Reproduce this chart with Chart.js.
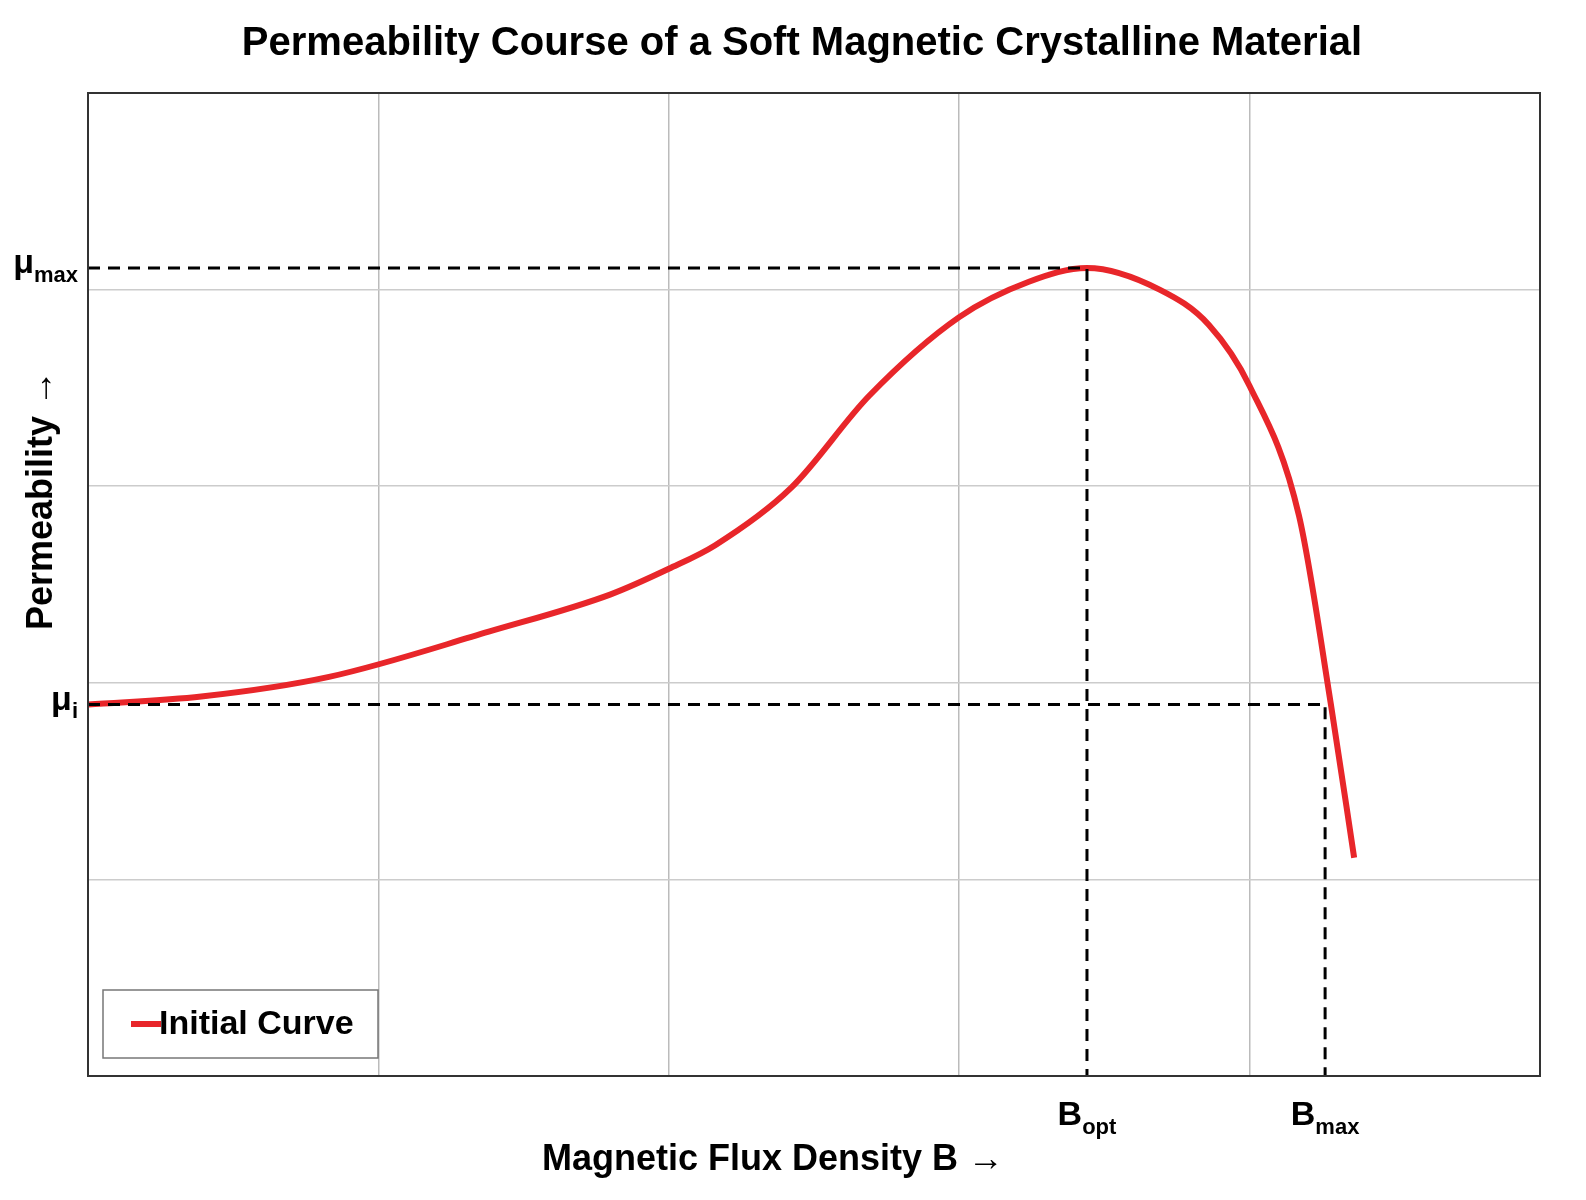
<!DOCTYPE html>
<html>
<head>
<meta charset="utf-8">
<script src="https://cdn.jsdelivr.net/npm/chart.js@4"></script>
<style>
  html, body { margin: 0; background: #fff; }
  canvas { display: block; }
</style>
</head>
<body>
<canvas id="chart" width="1586" height="1200"></canvas>
<script>
const FONT = "'Liberation Sans Narrow', 'Liberation Sans', Arial, sans-serif";

// initial curve (x and y in grid units 0..5)
const curveX = [0, 0.39, 0.83, 1.38, 1.80, 2.00, 2.16, 2.42, 2.69, 3.00, 3.24, 3.44, 3.69, 3.86, 4.00, 4.17, 4.28, 4.36];
const curveY = [1.89, 1.93, 2.03, 2.26, 2.45, 2.58, 2.70, 2.99, 3.46, 3.86, 4.04, 4.11, 4.00, 3.82, 3.51, 2.85, 1.89, 1.11];

// marked points
const muMax = 4.11;
const muI = 1.89;
const bOpt = 3.44;
const bMax = 4.26;

const xTicks = [{ v: bOpt, main: "B", sub: "opt" }, { v: bMax, main: "B", sub: "max" }];
const yTicks = [{ v: muMax, main: "μ", sub: "max" }, { v: muI, main: "μ", sub: "i" }];

const toPts = (xs, ys) => xs.map((x, i) => ({ x, y: ys[i] }));
const dashed = (pts) => ({
  data: pts, borderColor: "#000", borderWidth: 3, borderDash: [12, 8],
  pointRadius: 0, fill: false, tension: 0
});

const drawSub = (ctx, x, y, main, sub, align) => {
  ctx.font = `bold 34px ${FONT}`;
  const w1 = ctx.measureText(main).width;
  ctx.font = `bold 22px ${FONT}`;
  const w2 = ctx.measureText(sub).width;
  let sx = align === "right" ? x - w1 - w2 : x - (w1 + w2) / 2;
  ctx.textAlign = "left";
  ctx.textBaseline = "middle";
  ctx.font = `bold 34px ${FONT}`;
  ctx.fillText(main, sx, y);
  ctx.font = `bold 22px ${FONT}`;
  ctx.fillText(sub, sx + w1, y + 12);
};

const decor = {
  id: "decor",
  afterDraw(chart) {
    const { ctx, chartArea: a, scales: { x, y } } = chart;
    ctx.save();
    ctx.fillStyle = "#000";
    ctx.strokeStyle = "#333";
    ctx.lineWidth = 2;
    ctx.strokeRect(a.left, a.top, a.right - a.left, a.bottom - a.top);

    ctx.textAlign = "center";
    ctx.textBaseline = "middle";
    ctx.font = `bold 40px ${FONT}`;
    ctx.fillText("Permeability Course of a Soft Magnetic Crystalline Material", 802, 44);
    ctx.font = `bold 36px ${FONT}`;
    ctx.fillText("Magnetic Flux Density B →", 773, 1160);
    ctx.save();
    ctx.translate(42, 500);
    ctx.rotate(-Math.PI / 2);
    ctx.fillText("Permeability →", 0, 0);
    ctx.restore();

    xTicks.forEach((t) => drawSub(ctx, x.getPixelForValue(t.v), 1116, t.main, t.sub, "center"));
    yTicks.forEach((t) => drawSub(ctx, 78, y.getPixelForValue(t.v) - 4, t.main, t.sub, "right"));

    // legend box
    const lx = a.left + 15, ly = a.bottom - 86;
    ctx.fillStyle = "#fff";
    ctx.fillRect(lx, ly, 275, 68);
    ctx.strokeStyle = "#777";
    ctx.lineWidth = 1.5;
    ctx.strokeRect(lx, ly, 275, 68);
    ctx.strokeStyle = "#e8262a";
    ctx.lineWidth = 6;
    ctx.beginPath();
    ctx.moveTo(lx + 28, ly + 34);
    ctx.lineTo(lx + 58, ly + 34);
    ctx.stroke();
    ctx.fillStyle = "#000";
    ctx.font = `bold 34px ${FONT}`;
    ctx.textAlign = "left";
    ctx.fillText("Initial Curve", lx + 56, ly + 35);
    ctx.restore();
  }
};

new Chart(document.getElementById("chart"), {
  type: "line",
  data: {
    datasets: [
      dashed([{ x: 0, y: muMax }, { x: bOpt, y: muMax }, { x: bOpt, y: 0 }]),
      dashed([{ x: 0, y: muI }, { x: bMax, y: muI }, { x: bMax, y: 0 }]),
      {
        data: toPts(curveX, curveY), borderColor: "#e8262a", borderWidth: 6,
        pointRadius: 0, fill: false, cubicInterpolationMode: "monotone"
      }
    ]
  },
  options: {
    responsive: false,
    animation: false,
    devicePixelRatio: 1,
    layout: { padding: { left: 88, top: 93, right: 46, bottom: 124 } },
    plugins: { legend: { display: false }, tooltip: { enabled: false } },
    scales: {
      x: {
        type: "linear", min: 0, max: 5,
        ticks: { display: false, stepSize: 1 },
        grid: { color: "#bbb", lineWidth: 1.5, drawTicks: false },
        border: { display: false }
      },
      y: {
        type: "linear", min: 0, max: 5,
        ticks: { display: false, stepSize: 1 },
        grid: { color: "#ccc", lineWidth: 1.5, drawTicks: false },
        border: { display: false }
      }
    }
  },
  plugins: [decor]
});
</script>
</body>
</html>
